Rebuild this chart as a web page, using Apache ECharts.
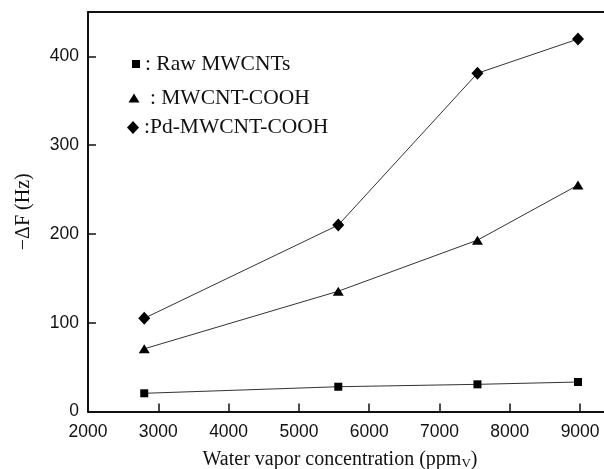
<!DOCTYPE html>
<html>
<head>
<meta charset="utf-8">
<script src="https://cdn.jsdelivr.net/npm/echarts@6/dist/echarts.min.js"></script>
<style>
html,body{margin:0;padding:0;background:#fff;}
#chart{width:604px;height:469px;}
</style>
</head>
<body>
<div id="chart"></div>
<script>
// Data
const xValues = [2800, 5560, 7540, 8970];
const rawMWCNTs = [20.5, 27.9, 30.6, 33.2];
const mwcntCOOH = [70.6, 135.5, 193, 255];
const pdMWCNTCOOH = [105, 210, 381, 419.5];
const seriesNames = ['Raw MWCNTs', 'MWCNT-COOH', 'Pd-MWCNT-COOH'];
const legendLabels = [': Raw MWCNTs', ' : MWCNT-COOH', ':Pd-MWCNT-COOH'];
const xTitle = 'Water vapor concentration (ppm{sub|V})';
const yTitle = '\u2212\u0394F (Hz)';

const pairs = arr => xValues.map((x, i) => [x, arr[i]]);

const chart = echarts.init(document.getElementById('chart'), null, {renderer: 'canvas'});
const serif = "'Liberation Serif', 'Times New Roman', serif";
const sans = "'Liberation Sans', Arial, sans-serif";

const legendCommon = {
  orient: 'vertical', padding: 0, itemGap: 5,
  textStyle: {fontFamily: serif, fontSize: 21.5, color: '#111', padding: [0,0,0,0]},
  formatter: name => legendLabels[seriesNames.indexOf(name)],
  selectedMode: false
};

chart.setOption({
  animation: false,
  backgroundColor: '#fff',
  grid: {left: 88, top: 12, right: 0, bottom: 57.5, containLabel: false, outerBoundsMode: 'none'},
  legend: [
    Object.assign({}, legendCommon, {left: 132, top: 53, itemWidth: 8, itemHeight: 8,
      data: [{name: seriesNames[0], icon: 'rect'}]}),
    Object.assign({}, legendCommon, {left: 128.5, top: 87, itemWidth: 11, itemHeight: 9,
      data: [{name: seriesNames[1], icon: 'triangle'}]}),
    Object.assign({}, legendCommon, {left: 127, top: 116.5, itemWidth: 12, itemHeight: 13,
      data: [{name: seriesNames[2], icon: 'diamond'}]})
  ],
  xAxis: [{
    type: 'value', min: 2000, max: 9340, interval: 1000,
    position: 'bottom',
    name: xTitle, nameLocation: 'middle', nameGap: 37,
    nameTextStyle: {fontFamily: serif, fontSize: 20, color: '#111', padding: [0, 12, 0, 0],
      rich: {sub: {fontFamily: serif, fontSize: 13, color: '#111', padding: [9, 0, 0, 0]}}},
    axisLine: {show: true, lineStyle: {color: '#111', width: 2}},
    axisTick: {show: true, inside: true, length: 8, lineStyle: {color: '#111', width: 1.5}},
    axisLabel: {fontFamily: sans, fontSize: 17.5, color: '#111', margin: 12, showMaxLabel: false,
      formatter: v => (v % 1000 === 0 ? String(v) : '')},
    splitLine: {show: false}
  }, {
    type: 'value', min: 2000, max: 9340, position: 'top',
    axisLine: {show: true, lineStyle: {color: '#111', width: 2}},
    axisTick: {show: false}, axisLabel: {show: false}, splitLine: {show: false}
  }],
  yAxis: {
    type: 'value', min: 0, max: 450, interval: 100,
    name: yTitle, nameLocation: 'middle', nameGap: 54,
    nameTextStyle: {fontFamily: serif, fontSize: 20, color: '#111'},
    axisLine: {show: true, lineStyle: {color: '#111', width: 2}},
    axisTick: {show: true, inside: true, length: 8, lineStyle: {color: '#111', width: 1.5}},
    axisLabel: {fontFamily: sans, fontSize: 17.5, color: '#111', margin: 9, showMaxLabel: false,
      formatter: v => (v % 100 === 0 ? String(v) : '')},
    splitLine: {show: false}
  },
  series: [
    {name: seriesNames[0], type: 'line', data: pairs(rawMWCNTs), symbol: 'rect', symbolSize: 8,
      itemStyle: {color: '#000'}, lineStyle: {color: '#333', width: 1}},
    {name: seriesNames[1], type: 'line', data: pairs(mwcntCOOH), symbol: 'triangle', symbolSize: [11, 9],
      itemStyle: {color: '#000'}, lineStyle: {color: '#333', width: 1}},
    {name: seriesNames[2], type: 'line', data: pairs(pdMWCNTCOOH), symbol: 'diamond', symbolSize: [12, 13],
      itemStyle: {color: '#000'}, lineStyle: {color: '#333', width: 1}}
  ]
});
</script>
</body>
</html>
